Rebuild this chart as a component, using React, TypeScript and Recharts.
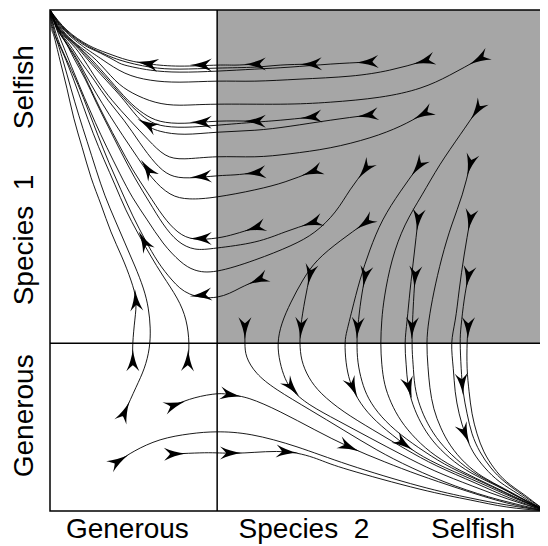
import {
  ComposedChart,
  Line,
  Scatter,
  XAxis,
  YAxis,
  ReferenceArea,
  ReferenceLine,
} from "recharts";

type Pt = [number, number];

// axis words (x: species 2, y: species 1)
const xLabels = ["Generous", "Species\u00a0\u00a02", "Selfish"];
const xLabelAt = [15.6, 51.2, 85.3];
const yLabels = ["Generous", "Species\u00a0\u00a01", "Selfish"];
const yLabelAt = [19.0, 54.1, 84.6];

// grey quadrant boundary
const splitX = 33.7;
const splitY = 33.5;

// --- trajectories running into the top-left corner ---
const trajA: Pt[] = [[41.3,89.2],[37.3,89.0],[33.7,89.0],[26.2,88.8],[20.2,89.2],[15.7,90.0],[11.5,91.4],[7.7,93.0],[3.4,96.0],[0,100]];
const trajB: Pt[] = [[52.6,89.2],[46.4,89.0],[41.3,88.6],[33.7,88.4],[26.2,88.2],[20.2,88.6],[14.1,90.0],[10.1,91.6],[7.3,93.0],[3.2,96.0],[0,100]];
const trajC: Pt[] = [[64.0,89.6],[56.5,89.2],[48.4,88.6],[41.3,88.2],[33.7,87.8],[26.2,87.6],[20.2,88.0],[15.1,89.0],[12.9,90.0],[9.3,91.8],[6.9,93.0],[3.0,96.0],[0,100]];
const trajD: Pt[] = [[75.4,89.8],[68.5,88.0],[60.5,86.8],[50.4,86.2],[41.3,85.8],[33.7,85.8],[26.2,85.6],[20.2,86.0],[15.1,87.4],[10.7,90.0],[7.7,92.0],[6.3,93.0],[2.8,96.0],[0,100]];
const trajE: Pt[] = [[86.5,90.2],[80.6,87.0],[74.6,84.4],[66.5,82.6],[56.5,81.6],[46.4,81.2],[33.7,81.2],[26.2,81.0],[21.2,81.6],[16.7,83.4],[13.1,86.0],[9.3,90.0],[5.6,93.0],[2.5,96.0],[0,100]];
const trajF: Pt[] = [[41.3,77.8],[33.7,77.8],[27.2,77.4],[22.2,77.8],[18.8,79.4],[15.7,82.0],[12.1,86.0],[8.5,90.0],[5.4,93.0],[2.3,96.0],[0,100]];
const trajG: Pt[] = [[52.6,78.6],[46.4,78.0],[41.3,77.6],[33.7,77.0],[27.2,76.6],[22.2,77.0],[19.0,78.6],[15.7,81.6],[11.9,85.8],[8.1,90.0],[5.2,93.0],[2.1,96.0],[0,100]];
const trajH: Pt[] = [[64.0,79.0],[56.5,78.0],[48.4,76.8],[41.3,76.0],[33.7,75.6],[27.2,75.2],[22.2,75.8],[18.5,77.8],[14.9,82.0],[11.3,86.0],[7.7,90.0],[5.0,93.0],[2.0,96.0],[0,100]];
const trajI: Pt[] = [[75.2,79.2],[70.6,76.8],[64.5,74.5],[56.5,72.5],[48.4,71.3],[41.3,70.7],[33.7,70.7],[27.2,70.3],[23.2,71.1],[19.8,74.1],[16.1,78.0],[12.5,82.0],[9.5,86.0],[6.9,90.0],[4.6,93.0],[1.9,96.0],[0,100]];
const trajK: Pt[] = [[41.3,67.5],[37.3,67.1],[33.7,66.9],[28.2,66.5],[24.2,67.1],[21.2,69.5],[18.1,73.5],[14.9,78.0],[11.7,82.0],[8.9,86.0],[6.0,90.0],[4.0,93.0],[1.8,96.0],[0,100]];
const trajL: Pt[] = [[52.8,67.7],[47.4,65.7],[41.3,64.1],[33.7,62.7],[28.2,62.3],[24.2,63.3],[20.6,66.5],[17.7,70.5],[14.7,74.9],[11.9,79.2],[9.3,83.4],[6.9,87.6],[4.6,91.6],[1.7,96.0],[0,100]];
const trajP: Pt[] = [[41.3,56.5],[37.3,55.3],[33.7,54.5],[29.2,54.3],[25.8,55.7],[22.8,58.9],[19.8,63.3],[16.7,68.1],[13.9,73.1],[11.3,78.0],[8.9,82.8],[6.7,87.4],[4.4,91.6],[1.6,96.0],[0,100]];
const trajQ: Pt[] = [[52.8,57.5],[47.4,55.7],[41.3,53.7],[33.7,52.5],[29.2,52.3],[25.8,53.9],[22.8,57.3],[20.0,61.7],[17.1,66.5],[14.3,71.7],[11.7,76.8],[9.3,81.6],[7.1,86.2],[4.8,90.4],[3.0,93.8],[1.5,96.0],[0,100]];
const trajM: Pt[] = [[63.5,68.1],[60.5,64.1],[57.5,59.7],[53.4,55.7],[48.4,52.9],[41.3,50.1],[33.7,47.9],[29.2,48.1],[26.2,49.9],[22.8,53.5],[19.6,58.1],[16.7,62.5],[14.1,67.3],[11.5,72.5],[9.1,77.6],[6.9,82.6],[4.8,87.6],[3.0,92.0],[1.4,96.0],[0,100]];
const trajU: Pt[] = [[41.9,46.1],[38.3,44.5],[33.7,42.7],[28.2,43.3],[24.6,46.1],[21.8,49.7],[19.2,54.1],[16.7,58.9],[14.3,64.1],[11.9,69.5],[9.7,74.9],[7.7,80.0],[5.6,85.2],[3.2,90.4],[1.8,93.6],[1.0,96.0],[0,100]];
const riseS3: Pt[] = [[27.8,30.1],[28.0,33.5],[27.4,38.1],[25.6,42.5],[22.8,46.9],[20.2,51.1],[17.7,55.5],[15.3,60.1],[13.1,65.1],[10.9,70.1],[8.7,75.4],[6.7,80.8],[4.8,86.0],[2.8,91.0],[1.4,94.0],[0.8,96.0],[0,100]];
const riseS2: Pt[] = [[15.1,19.8],[17.3,24.6],[19.0,28.5],[20.0,32.5],[20.2,36.5],[19.8,40.5],[18.8,44.5],[17.1,48.9],[15.1,53.5],[13.1,58.1],[11.1,62.9],[9.3,68.1],[7.5,73.7],[5.8,79.0],[4.2,84.4],[2.6,90.0],[1.2,94.4],[0.6,96.0],[0,100]];
const riseS1: Pt[] = [[16.7,30.1],[16.7,33.5],[17.1,38.1],[17.3,42.1],[16.3,46.1],[14.5,50.7],[12.3,55.7],[10.3,61.1],[8.3,66.5],[6.5,72.5],[4.8,78.4],[3.4,84.4],[2.0,90.0],[0.8,94.8],[0.4,96.0],[0,100]];

// --- trajectories running into the bottom-right corner ---
const fall245: Pt[] = [[39.3,36.5],[39.3,33.5],[39.7,30.7],[41.7,27.5],[45.8,24.2],[52.4,20.2],[59.1,16.2],[65.9,12.2],[73.0,8.6],[81.7,5.0],[90.7,2.2],[100,0]];
const fallR: Pt[] = [[63.5,57.5],[58.5,53.9],[54.0,50.1],[51.0,46.1],[48.6,41.7],[46.8,37.5],[46.0,33.5],[46.4,29.7],[47.4,26.5],[49.0,24.0],[52.4,21.2],[58.1,18.0],[64.5,14.6],[71.0,11.2],[77.6,8.0],[85.1,5.0],[92.3,2.4],[100,0]];
const fallV: Pt[] = [[52.4,47.1],[51.4,42.1],[50.6,37.1],[50.4,33.5],[50.8,30.1],[52.2,26.7],[54.8,23.4],[59.3,19.8],[65.1,16.2],[71.6,12.4],[78.0,9.0],[85.7,5.6],[92.7,2.6],[100,0]];
const fallN: Pt[] = [[74.2,68.7],[70.6,63.7],[67.1,58.1],[64.5,52.1],[62.5,46.1],[60.9,40.1],[59.9,36.1],[59.5,33.5],[59.7,29.7],[60.5,25.9],[62.1,22.4],[64.9,18.8],[69.0,15.2],[74.0,11.6],[79.8,8.6],[86.7,5.6],[93.1,2.8],[100,0]];
const fallW: Pt[] = [[63.5,46.7],[62.7,42.1],[62.1,37.1],[61.9,33.5],[62.1,29.7],[62.9,25.9],[64.3,22.4],[66.9,18.8],[70.8,15.2],[75.6,11.8],[81.0,8.6],[87.5,5.6],[93.5,2.8],[100,0]];
const fallJ: Pt[] = [[86.1,80.0],[82.7,75.1],[78.6,69.1],[75.0,63.1],[71.6,57.1],[69.0,50.1],[67.5,43.1],[66.9,38.1],[66.7,33.5],[66.9,29.3],[67.5,25.3],[68.8,21.6],[70.8,18.0],[73.8,14.4],[77.8,11.0],[82.9,8.0],[88.7,5.2],[94.2,2.6],[100,0]];
const fallS: Pt[] = [[74.2,58.1],[73.4,51.1],[72.6,44.1],[72.0,38.1],[71.6,33.5],[71.8,29.3],[72.2,25.1],[73.2,21.2],[74.8,17.6],[77.2,14.0],[80.6,10.6],[84.9,7.6],[90.1,5.0],[94.8,2.6],[100,0]];
const fallX: Pt[] = [[73.6,46.7],[73.2,40.1],[73.0,33.5],[73.2,29.3],[73.6,24.9],[74.6,21.0],[76.2,17.4],[78.6,13.8],[81.9,10.4],[85.9,7.4],[90.7,4.8],[95.2,2.4],[100,0]];
const fallO: Pt[] = [[84.7,69.1],[83.1,63.1],[81.0,57.1],[79.0,50.5],[77.4,43.7],[76.4,38.1],[76.0,33.5],[76.2,28.9],[76.6,24.6],[77.4,20.4],[78.8,16.6],[80.8,13.0],[83.7,9.6],[87.3,6.8],[91.7,4.4],[95.8,2.2],[100,0]];
const fallT: Pt[] = [[84.7,58.1],[83.5,51.1],[82.5,44.1],[81.7,38.1],[81.0,33.5],[81.3,28.5],[81.7,23.8],[82.5,19.4],[83.7,15.4],[85.3,11.8],[87.7,8.6],[90.7,5.8],[94.4,3.4],[97.2,1.6],[100,0]];
const fallY: Pt[] = [[84.3,46.7],[83.5,42.1],[82.9,37.1],[82.7,33.5],[82.9,28.5],[83.3,23.8],[84.1,19.4],[85.1,15.4],[86.7,11.8],[88.9,8.6],[91.7,5.8],[95.0,3.4],[97.6,1.6],[100,0]];
const fall467: Pt[] = [[84.3,36.5],[84.1,33.5],[84.1,28.5],[84.5,23.8],[85.1,19.4],[86.1,15.4],[87.5,11.8],[89.5,8.6],[92.1,5.8],[95.4,3.4],[97.8,1.6],[100,0]];
const runRL1: Pt[] = [[25.2,21.2],[29.2,22.6],[33.7,23.4],[36.5,23.2],[40.3,22.4],[46.4,19.8],[53.4,16.2],[60.3,12.8],[67.5,9.8],[74.4,7.2],[82.7,4.4],[92.1,1.6],[100,0]];
const runRL2: Pt[] = [[13.9,10.0],[17.1,12.0],[22.2,14.2],[28.2,15.4],[33.7,15.8],[40.7,15.2],[49.8,12.8],[60.3,9.2],[74.4,5.0],[84.7,2.6],[92.1,1.2],[100,0]];
const runRL3: Pt[] = [[25.2,11.4],[30.2,11.6],[33.7,11.6],[39.3,11.6],[47.8,11.8],[54.4,10.2],[60.3,8.2],[74.4,4.4],[84.7,2.2],[92.1,0.8],[100,0]];

const trajectories = [
  trajA, trajB, trajC, trajD, trajE, trajF, trajG, trajH, trajI, trajK, trajL,
  trajP, trajQ, trajM, trajU, riseS3, riseS2, riseS1,
  fall245, fallR, fallV, fallN, fallW, fallJ, fallS, fallX, fallO, fallT,
  fallY, fall467, runRL1, runRL2, runRL3,
];

// arrowheads: [x, y, heading in degrees, 0 = right, 90 = up]
const greyArrows: [number, number, number][] = [
  [41.3,89.2,181],[52.6,89.2,182],[64.0,89.6,183],[75.4,89.8,195],[86.5,90.2,209],
  [41.3,77.8,180],[52.6,78.6,186],[64.0,79.0,188],[75.2,79.2,208],[86.1,80.0,236],
  [41.3,67.5,186],[52.8,67.7,200],[63.5,68.1,233],[74.2,68.7,234],[84.7,69.1,255],
  [41.3,56.5,197],[52.8,57.5,198],[63.5,57.5,216],[74.2,58.1,264],[84.7,58.1,260],
  [41.9,46.1,204],[52.4,47.1,259],[63.5,46.7,260],[73.6,46.7,266],[84.3,46.7,260],
  [39.3,36.5,270],[50.6,36.5,266],[62.0,36.5,266],[73.0,36.5,268],[84.3,36.5,268],
];
const leftArrows: [number, number, number][] = [
  [30.4,89.0,180],[19.6,89.3,170],
  [30.4,77.6,180],[19.6,77.2,151],
  [30.4,66.7,184],[19.6,68.3,125],
  [30.4,54.4,180],[18.9,53.9,118],
  [30.4,43.1,186],[17.3,42.1,95],
  [16.7,30.1,90],[27.8,30.1,88],
  [15.1,19.8,66],[25.2,21.2,19],[36.5,23.2,-10],
  [13.9,10.0,32],[25.2,11.4,2],[36.5,11.6,0],[47.8,11.8,-5],
];
const lowerArrows: [number, number, number][] = [
  [48.8,24.6,-50],[61.1,24.6,-66],[72.4,24.6,-76],[83.1,25.3,-85],
  [60.3,12.8,-24],[71.4,13.4,-36],[83.7,15.4,-66],
];

const arrowData = [...greyArrows, ...leftArrows, ...lowerArrows].map(
  ([x, y, angle]) => ({ x, y, angle })
);

const FONT = '"Liberation Sans", Arial, Helvetica, sans-serif';
const ARROW_D =
  "M11,0 Q-1,-1.6 -11,-6.5 Q-6.5,-2.2 -5,0 Q-6.5,2.2 -11,6.5 Q-1,1.6 11,0 Z";

function Arrowhead(props: any) {
  const { cx, cy, payload } = props;
  if (cx == null || cy == null) return null;
  return (
    <path
      d={ARROW_D}
      fill="#000"
      transform={`translate(${cx},${cy}) rotate(${-payload.angle})`}
    />
  );
}

function XTick(props: any) {
  const { x, payload } = props;
  const i = xLabelAt.indexOf(payload.value);
  return (
    <text x={x} y={530} textAnchor="middle" fontFamily={FONT} fontSize={28} fill="#000">
      {xLabels[i]}
    </text>
  );
}

function YTick(props: any) {
  const { y, payload } = props;
  const i = yLabelAt.indexOf(payload.value);
  return (
    <text
      x={25}
      y={y}
      textAnchor="middle"
      fontFamily={FONT}
      fontSize={28}
      fill="#000"
      transform={`rotate(-90, 25, ${y})`}
    >
      {yLabels[i]}
    </text>
  );
}

export default function App() {
  return (
    <ComposedChart
      width={540}
      height={538}
      margin={{ top: 2, right: 2, left: 0, bottom: 0 }}
    >
      <XAxis
        type="number"
        dataKey="x"
        domain={[0, 100]}
        allowDataOverflow
        ticks={xLabelAt}
        interval={0}
        tick={<XTick />}
        axisLine={false}
        tickLine={false}
        height={35}
      />
      <YAxis
        type="number"
        dataKey="y"
        domain={[0, 100]}
        allowDataOverflow
        ticks={yLabelAt}
        interval={0}
        tick={<YTick />}
        axisLine={false}
        tickLine={false}
        width={42}
      />
      <ReferenceArea
        x1={splitX}
        x2={100}
        y1={splitY}
        y2={100}
        fill="#a6a6a6"
        fillOpacity={1}
        stroke="none"
      />
      {trajectories.map((t, i) => (
        <Line
          key={i}
          data={t.map(([x, y]) => ({ x, y }))}
          dataKey="y"
          type="natural"
          stroke="#000"
          strokeWidth={0.9}
          dot={false}
          activeDot={false}
          isAnimationActive={false}
        />
      ))}
      <ReferenceLine x={splitX} stroke="#000" strokeWidth={1.5} />
      <ReferenceLine y={splitY} stroke="#000" strokeWidth={1.5} />
      <ReferenceArea
        x1={0}
        x2={100}
        y1={0}
        y2={100}
        fill="none"
        stroke="#000"
        strokeWidth={1.5}
      />
      <Scatter
        data={arrowData}
        dataKey="y"
        shape={<Arrowhead />}
        isAnimationActive={false}
      />
    </ComposedChart>
  );
}
